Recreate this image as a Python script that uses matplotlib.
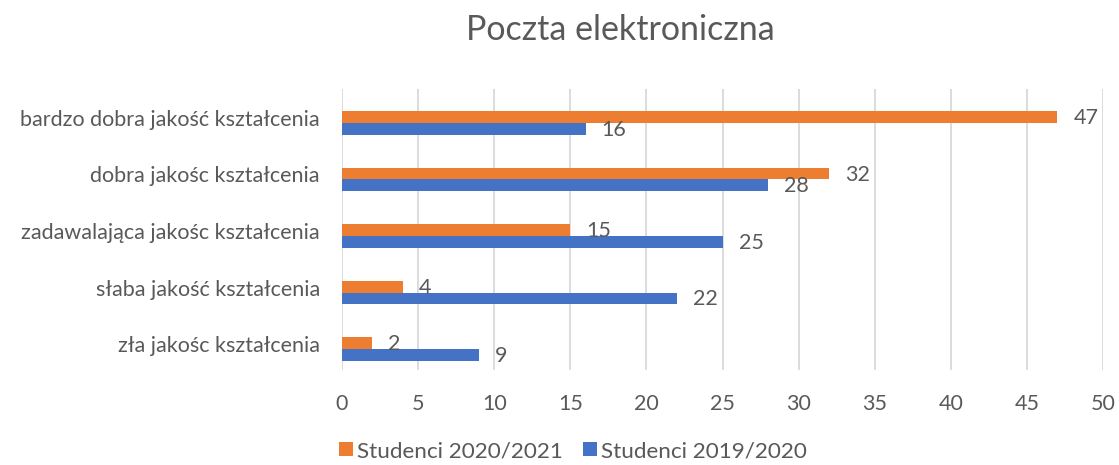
import matplotlib
matplotlib.use('Agg')
import matplotlib.pyplot as plt
import matplotlib.transforms as mtransforms
import numpy as np

plt.rcParams['font.family'] = ['Lato', 'DejaVu Sans']

# Data
categories = ['zła jakośc kształcenia', 'słaba jakość kształcenia',
              'zadawalająca jakośc kształcenia', 'dobra jakośc kształcenia',
              'bardzo dobra jakość kształcenia']
students_2021 = [2, 4, 15, 32, 47]
students_2020 = [9, 22, 25, 28, 16]
series_names = ['Studenci 2020/2021', 'Studenci 2019/2020']

orange = '#ED7D31'
blue = '#4472C4'
text_col = '#595959'

fig = plt.figure(figsize=(11.19, 4.65), dpi=100)
ax = fig.add_axes([342 / 1119, (465 - 370) / 465, (1103 - 342) / 1119, (370 - 89) / 465])

y = np.arange(len(categories))
h = 0.205
b1 = ax.barh(y + h / 2, students_2021, height=h, color=orange, label=series_names[0], zorder=3)
b2 = ax.barh(y - h / 2, students_2020, height=h, color=blue, label=series_names[1], zorder=3)

for bars in (b1, b2):
    for bar in bars:
        w = bar.get_width()
        ax.annotate(str(int(w)), (w, bar.get_y() + bar.get_height() / 2),
                    xytext=(16, -1), textcoords='offset pixels',
                    ha='left', va='center', fontsize=15.5, color=text_col)

ax.set_xlim(0, 50)
ax.set_ylim(-0.37, 4.60)
ax.set_xticks(np.arange(0, 51, 5))
ax.set_yticks(y)
ax.set_yticklabels(categories)
ax.tick_params(axis='both', length=0, labelsize=15.5, colors=text_col)
ax.tick_params(axis='y', pad=16)
ax.tick_params(axis='x', pad=17)
ax.grid(axis='x', color='#D9D9D9', linewidth=1.3, zorder=0)
for s in ax.spines.values():
    s.set_visible(False)

# nudge category labels up a little, like the original
shift = mtransforms.ScaledTranslation(0, 5 / 100, fig.dpi_scale_trans)
for lbl in ax.get_yticklabels():
    lbl.set_transform(lbl.get_transform() + shift)

fig.suptitle('Poczta elektroniczna', x=620 / 1119, y=1 - 14 / 465, va='top',
             fontsize=24.5, color=text_col)

fig.legend(handles=[b1, b2], loc='center', bbox_to_anchor=(573 / 1119, 1 - 451 / 465),
           ncol=2, frameon=False, fontsize=16.2, labelcolor=text_col,
           handlelength=0.6, handleheight=0.6, handletextpad=0.2, columnspacing=0.9)

fig.savefig('out.png', dpi=100)
